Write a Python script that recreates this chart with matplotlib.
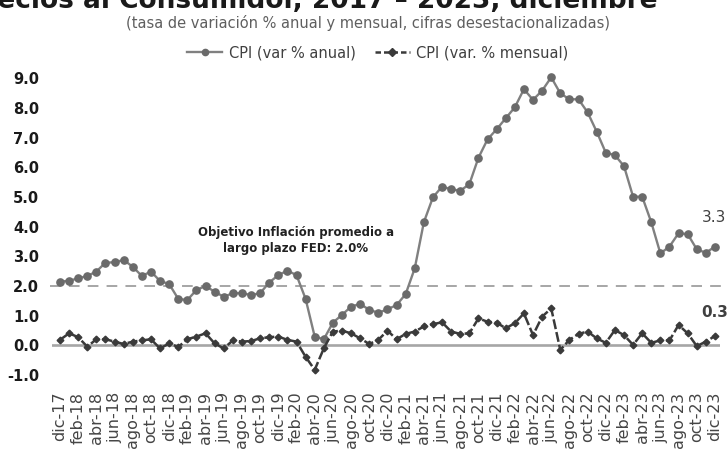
import matplotlib
matplotlib.use("Agg")
import matplotlib.pyplot as plt
from matplotlib.lines import Line2D

months = ["dic-17",
          "ene-18", "feb-18", "mar-18", "abr-18", "may-18", "jun-18", "jul-18", "ago-18", "sep-18", "oct-18", "nov-18", "dic-18",
          "ene-19", "feb-19", "mar-19", "abr-19", "may-19", "jun-19", "jul-19", "ago-19", "sep-19", "oct-19", "nov-19", "dic-19",
          "ene-20", "feb-20", "mar-20", "abr-20", "may-20", "jun-20", "jul-20", "ago-20", "sep-20", "oct-20", "nov-20", "dic-20",
          "ene-21", "feb-21", "mar-21", "abr-21", "may-21", "jun-21", "jul-21", "ago-21", "sep-21", "oct-21", "nov-21", "dic-21",
          "ene-22", "feb-22", "mar-22", "abr-22", "may-22", "jun-22", "jul-22", "ago-22", "sep-22", "oct-22", "nov-22", "dic-22",
          "ene-23", "feb-23", "mar-23", "abr-23", "may-23", "jun-23", "jul-23", "ago-23", "sep-23", "oct-23", "nov-23", "dic-23"]

cpi_anual = [2.15,
             2.18, 2.26, 2.34, 2.49, 2.79, 2.80, 2.88, 2.65, 2.34, 2.49, 2.17, 2.07,
             1.57, 1.53, 1.87, 2.00, 1.81, 1.64, 1.76, 1.76, 1.70, 1.76, 2.12, 2.37,
             2.52, 2.37, 1.57, 0.30, 0.21, 0.77, 1.03, 1.31, 1.40, 1.20, 1.10, 1.22,
             1.36, 1.73, 2.60, 4.15, 4.99, 5.35, 5.26, 5.21, 5.43, 6.32, 6.94, 7.28,
             7.65, 8.02, 8.63, 8.27, 8.58, 9.03, 8.49, 8.29, 8.29, 7.85, 7.20, 6.49,
             6.41, 6.04, 5.01, 5.01, 4.15, 3.10, 3.33, 3.78, 3.75, 3.24, 3.12, 3.33]

cpi_mensual = [0.19,
               0.41, 0.28, -0.04, 0.21, 0.21, 0.13, 0.05, 0.13, 0.17, 0.21, -0.10, 0.07,
               -0.05, 0.21, 0.30, 0.41, 0.07, -0.10, 0.17, 0.13, 0.15, 0.24, 0.28, 0.30,
               0.19, 0.13, -0.38, -0.82, -0.10, 0.47, 0.50, 0.41, 0.24, 0.05, 0.19, 0.50,
               0.21, 0.39, 0.47, 0.64, 0.72, 0.78, 0.47, 0.39, 0.41, 0.91, 0.80, 0.77,
               0.58, 0.75, 1.08, 0.35, 0.97, 1.25, -0.15, 0.19, 0.39, 0.47, 0.24, 0.09,
               0.52, 0.35, 0.02, 0.41, 0.09, 0.17, 0.17, 0.69, 0.41, -0.02, 0.13, 0.32]

objetivo_fed = 2.0
yticks = [-1, 0, 1, 2, 3, 4, 5, 6, 7, 8, 9]

title = "Índice de Precios al Consumidor, 2017 – 2023, diciembre"
subtitle = "(tasa de variación % anual y mensual, cifras desestacionalizadas)"
note = "Objetivo Inflación promedio a\nlargo plazo FED: 2.0%"
label_anual = "CPI (var % anual)"
label_mensual = "CPI (var. % mensual)"

W, H = 727, 457
fig = plt.figure(figsize=(W / 100, H / 100), dpi=100)
plt.rcParams['font.family'] = ['DejaVu Sans']

L, R = 51.8, 719.5
T, B = 66.3, 384.1
ax = fig.add_axes([L / W, 1 - B / H, (R - L) / W, (B - T) / H])

x = list(range(len(months)))
ax.set_xlim(-0.9, len(months) - 0.5)
ax.set_ylim(-1.3, 9.4)

# zero line
ax.axhline(0, color="#a6a6a6", lw=1.9, zorder=1)
# FED target
ax.axhline(objetivo_fed, xmin=-0.003, xmax=1.012, color="#a6a6a6", lw=1.4,
           dashes=(5.5, 4.2), clip_on=False, zorder=1)

ax.plot(x, cpi_anual, color="#808080", lw=1.7, marker="o", markersize=5.2,
        markerfacecolor="#6a6a6a", markeredgecolor="#6a6a6a", zorder=3)
ax.plot(x, cpi_mensual, color="#3a3a3a", lw=1.8, dashes=(4, 1.2), marker="D",
        markersize=3.4, markerfacecolor="#3a3a3a", markeredgecolor="#3a3a3a", zorder=4)

ax.set_yticks(yticks)
ax.set_yticklabels([f"{v:.1f}" for v in yticks], fontsize=10.5, fontweight="bold", color="#1a1a1a")
ax.set_xticks(x[::2])
ax.set_xticklabels(months[::2], rotation=90, fontsize=11.5, color="#454545")
ax.tick_params(axis="y", length=0, pad=9.2)
ax.tick_params(axis="x", length=0, pad=5.5)
for s in ax.spines.values():
    s.set_visible(False)

# end labels
ax.annotate(f"{cpi_anual[-1]:.1f}", xy=(x[-1], cpi_anual[-1]), xytext=(-1, 21),
            textcoords="offset points", ha="center", va="center", fontsize=11,
            color="#404040", annotation_clip=False)
ax.annotate(f"{cpi_mensual[-1]:.1f}", xy=(x[-1], cpi_mensual[-1]), xytext=(0, 17),
            textcoords="offset points", ha="center", va="center", fontsize=11,
            fontweight="bold", color="#404040", annotation_clip=False)

# FED note
fig.text(296 / W, 1 - 240.5 / H, note, ha="center", va="center", fontsize=8.5,
         fontweight="bold", color="#222222", linespacing=1.35)

# title (clipped at top) and subtitle
fig.text(657 / W, 1 - 8 / H, title, ha="right", va="baseline", fontsize=19,
         fontweight="bold", color="#1a1a1a")
fig.text(368 / W, 1 - 23 / H, subtitle, ha="center", va="center", fontsize=10.5,
         color="#5f5f5f")

handles = [
    Line2D([], [], color="#808080", lw=1.7, marker="o", markersize=4.5,
           markerfacecolor="#6a6a6a", markeredgecolor="#6a6a6a"),
    Line2D([], [], color="#3a3a3a", lw=1.8, dashes=(2.2, 1.2), marker="D", markersize=3.6,
           markerfacecolor="#3a3a3a", markeredgecolor="#3a3a3a"),
]
fig.legend(handles, [label_anual, label_mensual], loc="center",
           bbox_to_anchor=(378 / W, 1 - 53 / H), ncol=2, frameon=False,
           fontsize=10.5, handlelength=2.4, handletextpad=0.45, columnspacing=1.3,
           labelcolor="#404040")

fig.savefig("out.png", dpi=100)
